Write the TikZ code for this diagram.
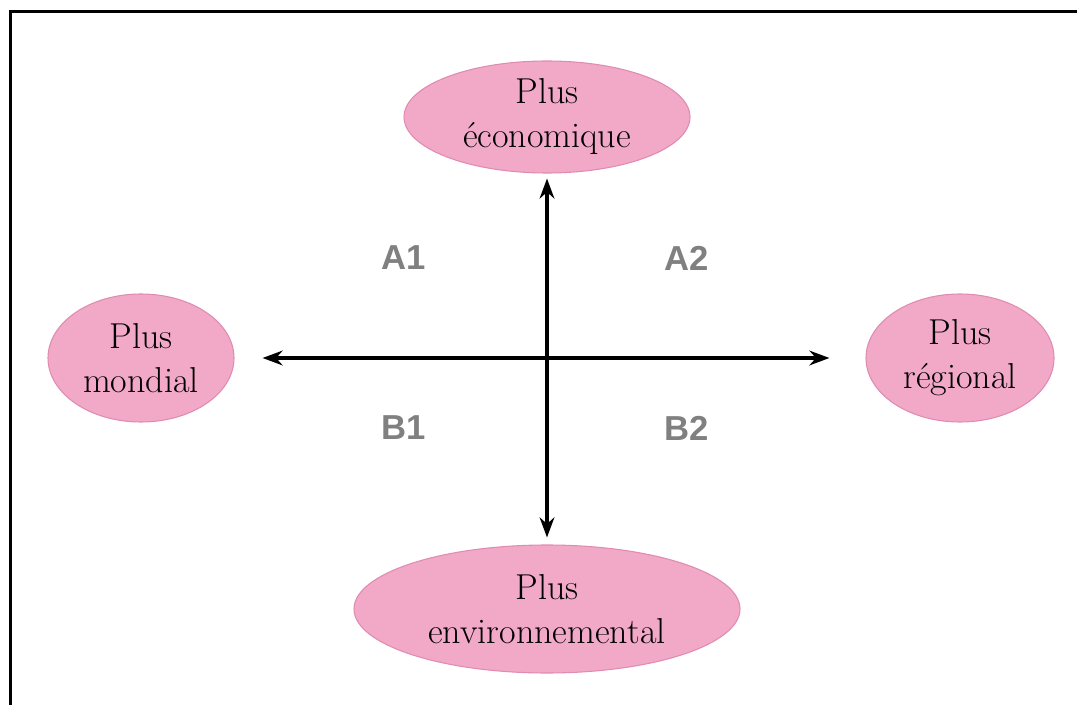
\documentclass[tikz,border=0pt]{standalone}
\usepackage{fontspec}
\newfontfamily\quadfont{Liberation Sans}
\usetikzlibrary{shapes.geometric,arrows.meta,positioning}
\definecolor{polepink}{RGB}{242,168,199}
\definecolor{poleedge}{RGB}{224,140,176}
\definecolor{quadgray}{RGB}{128,128,128}

\begin{document}
\begin{tikzpicture}[x=0.75pt,y=-0.75pt,
	pole/.style={ellipse,draw=poleedge,fill=polepink,line width=0.8pt,align=center,
		inner sep=0pt,font=\fontsize{27}{33}\selectfont},
	quad/.style={font=\quadfont\bfseries\fontsize{26}{30}\selectfont,text=quadgray},
	axis/.style={line width=2.8pt,{Stealth[length=15pt,width=11pt]}-{Stealth[length=15pt,width=11pt]}}]
	\useasboundingbox (0,0) rectangle (1077,705);
	\draw[line width=2.6pt] (10.5,705) -- (10.5,11.5) -- (1077,11.5);

	\node[pole,minimum width=214.5pt,minimum height=84pt]	(eco)		at (547,117)	{Plus\\économique};
	\node[pole,minimum width=139.5pt,minimum height=96pt]	(mondial)	at (141,358)	{Plus\\mondial};
	\node[pole,minimum width=141pt,minimum height=96pt]		(regional)	at (960,358)	{Plus\\régional};
	\node[pole,minimum width=289.5pt,minimum height=96pt]	(env)		at (547,609)	{Plus\\environnemental};

	\node[quad]	(a1)	at (404,258)	{A1};
	\node[quad]	(a2)	at (687,258)	{A2};
	\node[quad]	(b1)	at (404,428)	{B1};
	\node[quad]	(b2)	at (687,428)	{B2};

	\draw[axis,shorten <=21pt,shorten >=27pt]		(mondial)	-- (regional);
	\draw[axis,shorten <=3.75pt,shorten >=5.25pt]	(eco)		-- (env);
\end{tikzpicture}
\end{document}
